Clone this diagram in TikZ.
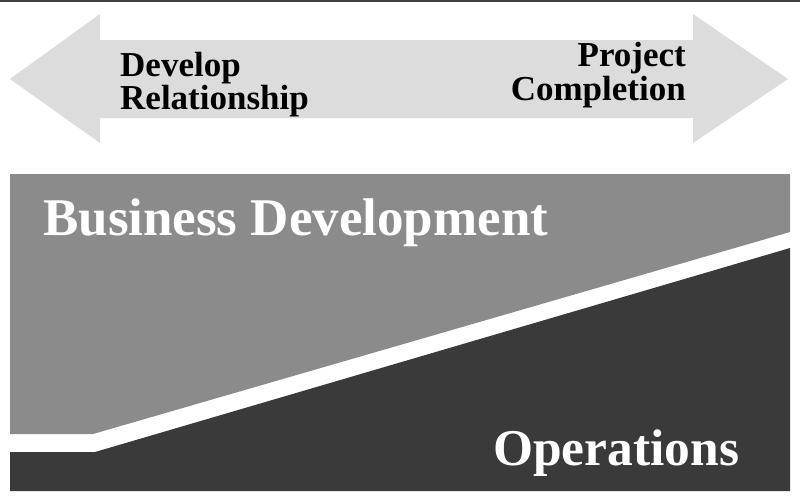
\documentclass[tikz,border=0pt]{standalone}
\usepackage{fontspec}
\setmainfont{Liberation Serif}
\definecolor{arrowgray}{HTML}{DCDCDC}
\definecolor{bizgray}{HTML}{8B8B8B}
\definecolor{opsdark}{HTML}{3A3A3A}
\begin{document}
\begin{tikzpicture}[x=1pt,y=-1pt,
  toplabel/.style={font=\bfseries\fontsize{35}{35}\selectfont, text=black, inner sep=0pt},
  biglabel/.style={font=\bfseries\fontsize{53}{53}\selectfont, text=white, inner sep=0pt}]
\useasboundingbox (0,0) rectangle (800,501);
\fill[white] (0,0) rectangle (800,501);
\draw[line width=1.5pt, black!75] (0,0.75) -- (800,0.75);
% double arrow
\fill[arrowgray] (10,79) -- (100,14) -- (100,40) -- (693,40) -- (693,14) -- (788,79)
  -- (693,143) -- (693,118) -- (100,118) -- (100,143) -- cycle;
% regions
\fill[bizgray] (10,174) -- (790,174) -- (790,232) -- (93,434) -- (10,434) -- cycle;
\fill[opsdark] (10,452) -- (95,452) -- (790,248) -- (790,491) -- (10,491) -- cycle;
% labels
\node[toplabel, anchor=base west] (dev) at (120,76) {Develop};
\node[toplabel, anchor=base west] (rel) at (120,109) {Relationship};
\node[toplabel, anchor=base east] (proj) at (686,66) {Project};
\node[toplabel, anchor=base east] (comp) at (686,100) {Completion};
\node[biglabel, anchor=base west] (biz) at (43,235) {Business Development};
\node[biglabel, anchor=base west, font=\bfseries\fontsize{51.5}{52}\selectfont] (ops) at (493,465) {Operations};
\end{tikzpicture}
\end{document}
